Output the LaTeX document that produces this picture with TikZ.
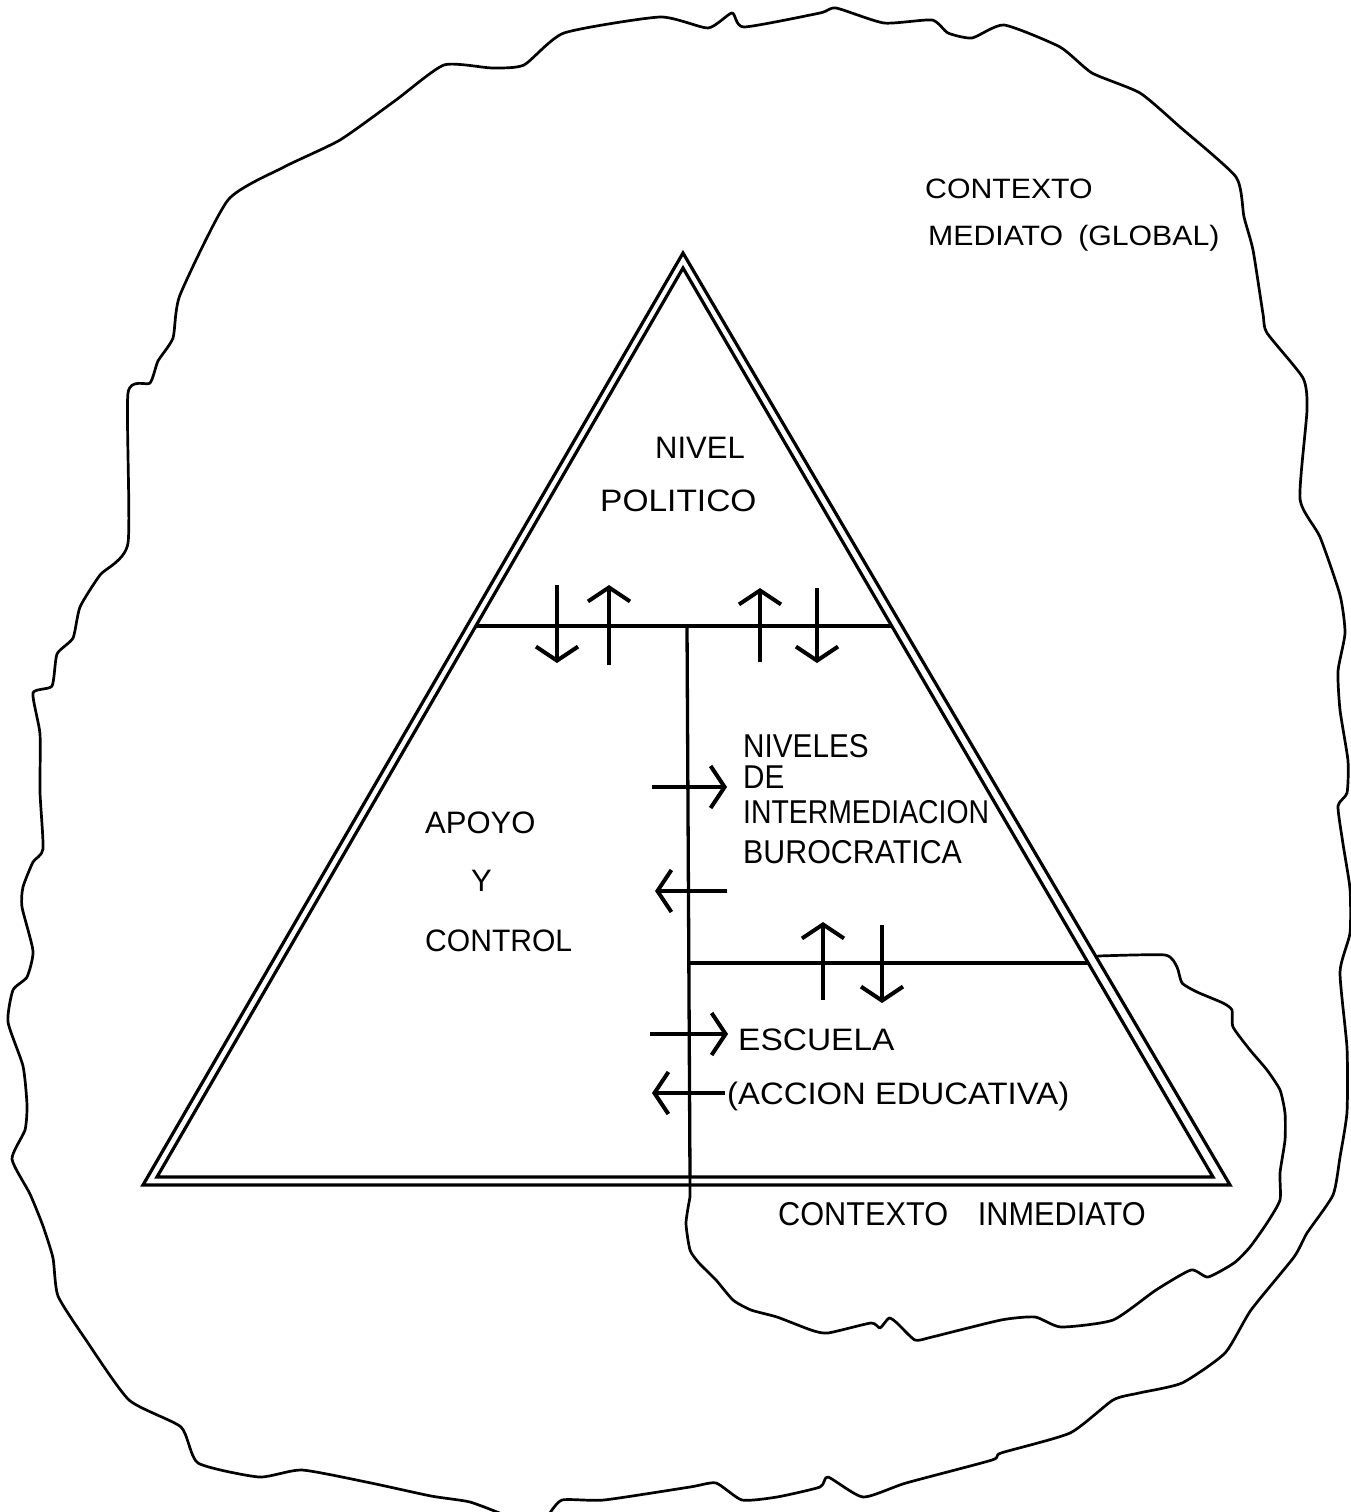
\documentclass[tikz,border=0pt]{standalone}
\usepackage{fontspec}
\usepackage{graphicx}
\setmainfont{Liberation Sans}
\usetikzlibrary{arrows.meta}
\begin{document}
\begin{tikzpicture}[x=1pt,y=-1pt,
  tri/.style={line width=3.2pt, line join=miter},
  rule/.style={line width=3.3pt},
  arr/.style={line width=4pt, -{Straight Barb[length=14pt,width=42pt]}},
  cont/.style={line width=2.7pt, line join=round, line cap=round},
  lab/.style={inner sep=0pt, anchor=base west},
  fS/.style={font=\fontsize{28}{32}\selectfont},
  fM/.style={font=\fontsize{31}{36}\selectfont},
  fL/.style={font=\fontsize{33}{38}\selectfont}]
\useasboundingbox (0,0) rectangle (1351,1512);
\clip (0,0) rectangle (1351,1512);

% outer contour (contexto mediato)
\draw[cont] plot[smooth, tension=0.35] coordinates {
 (507,1516) (470,1502) (431,1496) (371,1483) (302,1470) (259,1477) (198,1463) (181,1427) (129,1400)
 (86,1340) (58,1296) (53,1258) (43,1226) (30,1194) (12,1159) (25,1130) (27,1105)
 (23,1066) (8,1022) (13,990) (27,977) (33,951) (22,907) (23,887) (33,862) (43,849)
 (40,792) (40,734) (33,693) (52,686) (57,654) (73,638) (80,607) (100,575) (128,543)
 (128,393) (150,383) (158,361) (173,338) (180,295) (228,200) (284,167) (340,140)
 (396,100) (444,65) (492,68) (524,65) (564,33) (660,17) (708,28) (732,13) (744,27)
 (820,13) (836,8) (884,23) (932,20) (948,33) (972,38) (1004,25) (1060,47) (1092,73)
 (1140,93) (1180,127) (1236,177) (1244,217) (1253,250) (1263,314) (1267,333)
 (1303,378) (1307,410) (1300,499) (1320,537) (1340,595) (1345,633) (1338,671)
 (1340,710) (1348,761) (1347,793) (1338,806) (1343,844) (1350,889) (1350,933)
 (1340,972) (1347,1048) (1347,1112) (1340,1157) (1333,1195) (1307,1233) (1294,1257)
 (1251,1310) (1225,1353) (1182,1383) (1139,1393) (1113,1400) (1070,1433) (1001,1453)
 (992,1460) (906,1483) (863,1497) (828,1477) (820,1487) (777,1497) (742,1500)
 (716,1483) (690,1487) (604,1500) (562,1500) (548,1516)};

% triangle (double outline)
\coordinate (TA) at (683,253); \coordinate (TL) at (143,1185); \coordinate (TR) at (1230,1185);
\coordinate (ta) at (683,268); \coordinate (tl) at (157,1177); \coordinate (tr) at (1213,1177);
\draw[tri] (TA) -- (TL) -- (TR) -- cycle;
\draw[tri] (ta) -- (tl) -- (tr) -- cycle;

% dividing lines
\coordinate (L1a) at (476,626); \coordinate (L1b) at (891,626);
\coordinate (V1) at (687,626); \coordinate (V2) at (690,1177);
\coordinate (L2a) at (689,963); \coordinate (L2b) at (1088,963);
\draw[rule] (L1a) -- (L1b);
\draw[rule] (V1) -- (V2);
\draw[rule] (L2a) -- (L2b);

% inner contour (contexto inmediato)
\draw[cont] (V2) -- (690,1197) plot[smooth, tension=0.35] coordinates {
 (690,1197) (686,1223) (690,1250) (699,1263) (716,1280) (733,1300) (751,1310)
 (777,1317) (811,1330) (828,1333) (871,1323) (880,1328) (889,1318) (897,1323)
 (915,1340) (932,1337) (1001,1320) (1035,1317) (1061,1327) (1113,1320) (1156,1290)
 (1191,1270) (1208,1277) (1234,1263) (1250,1247) (1267,1223) (1280,1200) (1280,1173)
 (1285,1140) (1285,1113) (1280,1090) (1267,1070) (1250,1050) (1233,1027) (1232,1010)
 (1223,1003) (1197,992) (1182,983) (1177,967) (1165,955) (1098,956)};

% arrows
\coordinate (a1s) at (557,585); \coordinate (a1e) at (557,663);
\coordinate (a2s) at (609,665); \coordinate (a2e) at (609,585);
\coordinate (a3s) at (760,662); \coordinate (a3e) at (760,588);
\coordinate (a4s) at (817,588); \coordinate (a4e) at (817,663);
\coordinate (a5s) at (652,787); \coordinate (a5e) at (727,787);
\coordinate (a6s) at (727,891); \coordinate (a6e) at (655,891);
\coordinate (a7s) at (823,1000); \coordinate (a7e) at (823,922);
\coordinate (a8s) at (882,925); \coordinate (a8e) at (882,1003);
\coordinate (a9s) at (650,1034); \coordinate (a9e) at (728,1034);
\coordinate (a10s) at (725,1093); \coordinate (a10e) at (652,1093);
\foreach \i in {1,...,10} {\draw[arr] (a\i s) -- (a\i e);}

% labels
\node[lab,fS] (ctxA) at (925,198) {\scalebox{1.08}[1]{CONTEXTO}};
\node[lab,fS] (ctxB) at (928,245) {\scalebox{1.08}[1]{MEDIATO\hspace{14pt}(GLOBAL)}};
\node[lab,fM] (niv) at (655,458) {NIVEL};
\node[lab,fM] (pol) at (600,511) {\scalebox{1.08}[1]{POLITICO}};
\node[lab,fM] (apo) at (425,833) {APOYO};
\node[lab,fM] (yy) at (471,891) {Y};
\node[lab,fM] (con) at (425,951) {\scalebox{0.97}[1]{CONTROL}};
\node[lab,fL] (n1) at (743,757) {\scalebox{0.9}[1]{NIVELES}};
\node[lab,fL] (n2) at (743,788) {\scalebox{0.9}[1]{DE}};
\node[lab,fL] (n3) at (743,823) {\scalebox{0.86}[1]{INTERMEDIACION}};
\node[lab,fL] (n4) at (743,863) {\scalebox{0.92}[1]{BUROCRATICA}};
\node[lab,fM] (esc) at (738,1050) {\scalebox{1.08}[1]{ESCUELA}};
\node[lab,fM] (acc) at (727,1104) {\scalebox{1.06}[1]{(ACCION EDUCATIVA)}};
\node[lab,fL] (ci) at (778,1225) {\scalebox{0.93}[1]{CONTEXTO\hspace{32pt}INMEDIATO}};
\end{tikzpicture}
\end{document}
